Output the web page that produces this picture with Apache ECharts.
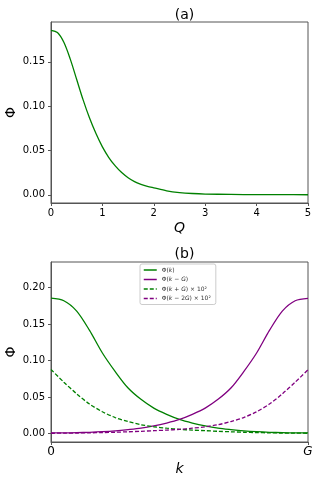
<!DOCTYPE html>
<html><head><meta charset="utf-8">
<script src="https://cdn.jsdelivr.net/npm/echarts@6/dist/echarts.min.js"></script>
<style>html,body{margin:0;padding:0;background:#fff}#c{width:318px;height:482px}</style>
</head><body><div id="c"></div>
<script>
// Panel (a): Phi(Q)
const qValues   = [0, 0.125, 0.25, 0.375, 0.5, 0.625, 0.75, 0.875, 1.0, 1.125, 1.25, 1.375, 1.5, 1.625, 1.75, 1.875, 2.0, 2.25, 2.5, 2.75, 3.0, 3.5, 4.0, 4.5, 5.0];
const phiQ      = [0.1855, 0.1830, 0.1720, 0.1530, 0.1300, 0.1070, 0.0865, 0.0690, 0.0540, 0.0420, 0.0325, 0.0250, 0.0192, 0.0148, 0.0118, 0.0095, 0.0078, 0.0045, 0.0025, 0.0014, 0.0008, 0.0004, 0.00015, 0.00006, 0.00002];
const qTicks    = [0, 1, 2, 3, 4, 5];
const phiTicksA = [0, 0.05, 0.10, 0.15];

// Panel (b): k in units of G (0 .. 1)
const kValues     = [0, 0.05, 0.10, 0.15, 0.20, 0.25, 0.30, 0.35, 0.40, 0.45, 0.50, 0.55, 0.60, 0.65, 0.70, 0.75, 0.80, 0.85, 0.90, 0.95, 1.0];
const phiK        = [0.1857, 0.1822, 0.1680, 0.1415, 0.1105, 0.0850, 0.0625, 0.0470, 0.0350, 0.0265, 0.0195, 0.0145, 0.0105, 0.0075, 0.0055, 0.0038, 0.0026, 0.0018, 0.0013, 0.0010, 0.0009];
const phiKmG      = [0.0009, 0.0010, 0.0013, 0.0018, 0.0026, 0.0038, 0.0055, 0.0075, 0.0105, 0.0145, 0.0195, 0.0265, 0.0350, 0.0470, 0.0625, 0.0850, 0.1105, 0.1415, 0.1680, 0.1822, 0.1855];
const phiKpG100   = [0.0880, 0.0705, 0.0545, 0.0405, 0.0300, 0.0220, 0.0165, 0.0122, 0.0094, 0.0074, 0.0059, 0.0048, 0.0040, 0.0032, 0.0025, 0.0019, 0.0014, 0.0011, 0.0008, 0.0006, 0.0005];
const phiKm2G100  = [0.0005, 0.0006, 0.0008, 0.0011, 0.0014, 0.0019, 0.0025, 0.0032, 0.0040, 0.0048, 0.0059, 0.0074, 0.0094, 0.0122, 0.0165, 0.0220, 0.0300, 0.0405, 0.0545, 0.0705, 0.0875];
const kTickLabels = ['0', 'G'];
const phiTicksB   = [0, 0.05, 0.10, 0.15, 0.20];
const legendNames = ['Φ(k)', 'Φ(k−G)', 'Φ(k+G)×10²', 'Φ(k−2G)×10²'];

const GREEN = '#008000', PURPLE = '#800080', SPINE = '#555';
const FONT = 'DejaVu Sans';
const zip = (a, b) => a.map((v, i) => [v, b[i]]);

function yAxisCfg(idx, min, max, ticks) {
  return {
    type: 'value', gridIndex: idx, min: min, max: max,
    name: 'Φ', nameLocation: 'middle', nameGap: 40, nameRotate: 90, nameMoveOverlap: false,
    nameTextStyle: {fontFamily: FONT, fontSize: 14, color: '#000', align: 'center', verticalAlign: 'middle'},
    splitLine: {show: false},
    axisLine: {show: true, lineStyle: {color: SPINE, width: 1}},
    axisTick: {show: true, length: 3, lineStyle: {color: SPINE}, customValues: ticks},
    axisLabel: {fontFamily: FONT, fontSize: 10, color: '#000', margin: 6, customValues: ticks,
      formatter: v => v.toFixed(2)}
  };
}

const legendRich = {
  n: {fontFamily: FONT, fontSize: 6, color: '#333'},
  i: {fontFamily: FONT, fontSize: 6, color: '#333', fontStyle: 'italic'}
};
const legendFmt = {
  'Φ(k)': '{n|Φ(}{i|k}{n|)}',
  'Φ(k−G)': '{n|Φ(}{i|k}{n| − }{i|G}{n|)}',
  'Φ(k+G)×10²': '{n|Φ(}{i|k}{n| + }{i|G}{n|) × 10²}',
  'Φ(k−2G)×10²': '{n|Φ(}{i|k}{n| − 2}{i|G}{n|) × 10²}'
};

const lineS = (name, xi, data, color, dashed) => ({
  type: 'line', name: name, xAxisIndex: xi, yAxisIndex: xi, data: data,
  showSymbol: false, symbol: 'none', smooth: 0.3,
  lineStyle: {color: color, width: 1.3, type: dashed ? [4, 2] : 'solid'},
  itemStyle: {color: color}, z: 3
});

const chart = echarts.init(document.getElementById('c'), null, {renderer: 'canvas'});
chart.setOption({
  animation: false,
  backgroundColor: '#fff',
  title: [
    {text: '(a)', left: 179.5, top: 3, textAlign: 'center',
     textStyle: {fontFamily: FONT, fontSize: 14, fontWeight: 'normal', color: '#000'}},
    {text: '(b)', left: 179.5, top: 242, textAlign: 'center',
     textStyle: {fontFamily: FONT, fontSize: 14, fontWeight: 'normal', color: '#000'}}
  ],
  grid: [
    {left: 51, top: 22, width: 257, height: 181, show: true, borderColor: SPINE, borderWidth: 1,
     containLabel: false, outerBoundsMode: 'none'},
    {left: 51, top: 262, width: 257, height: 180, show: true, borderColor: SPINE, borderWidth: 1,
     containLabel: false, outerBoundsMode: 'none'}
  ],
  legend: {
    data: legendNames, left: 140, top: 264, orient: 'vertical',
    itemWidth: 13, itemHeight: 7, itemGap: 3.5, padding: [3, 5, 3, 3],
    borderColor: '#ccc', borderWidth: 1, borderRadius: 2, backgroundColor: '#fff',
    itemStyle: {opacity: 0},
    lineStyle: {width: 1.5},
    textStyle: {fontFamily: FONT, fontSize: 6, color: '#333', rich: legendRich},
    formatter: name => legendFmt[name] || name
  },
  xAxis: [
    {type: 'value', gridIndex: 0, min: 0, max: 5, interval: 1,
     name: 'Q', nameLocation: 'middle', nameGap: 18, nameMoveOverlap: false,
     nameTextStyle: {fontFamily: FONT, fontSize: 14, fontStyle: 'italic', color: '#000'},
     splitLine: {show: false},
     axisLine: {show: true, onZero: false, lineStyle: {color: SPINE, width: 1}},
     axisTick: {show: true, length: 3, lineStyle: {color: SPINE}},
     axisLabel: {fontFamily: FONT, fontSize: 10, color: '#000', margin: 5,
       formatter: v => qTicks.includes(v) ? String(v) : ''}},
    {type: 'value', gridIndex: 1, min: 0, max: 1, interval: 1,
     name: 'k', nameLocation: 'middle', nameGap: 20, nameMoveOverlap: false,
     nameTextStyle: {fontFamily: FONT, fontSize: 14, fontStyle: 'italic', color: '#000'},
     splitLine: {show: false},
     axisLine: {show: true, onZero: false, lineStyle: {color: SPINE, width: 1}},
     axisTick: {show: true, length: 3, lineStyle: {color: SPINE}},
     axisLabel: {fontFamily: FONT, fontSize: 12, color: '#000', margin: 4,
       formatter: v => v === 0 ? kTickLabels[0] : '{g|' + kTickLabels[1] + '}',
       rich: {g: {fontFamily: FONT, fontSize: 12, fontStyle: 'italic', color: '#000'}}}}
  ],
  yAxis: [
    yAxisCfg(0, -0.0093, 0.1949, phiTicksA),
    yAxisCfg(1, -0.0115, 0.2353, phiTicksB)
  ],
  series: [
    lineS('phiQ', 0, zip(qValues, phiQ), GREEN, false),
    lineS(legendNames[0], 1, zip(kValues, phiK), GREEN, false),
    lineS(legendNames[1], 1, zip(kValues, phiKmG), PURPLE, false),
    lineS(legendNames[2], 1, zip(kValues, phiKpG100), GREEN, true),
    lineS(legendNames[3], 1, zip(kValues, phiKm2G100), PURPLE, true)
  ]
});
</script></body></html>
